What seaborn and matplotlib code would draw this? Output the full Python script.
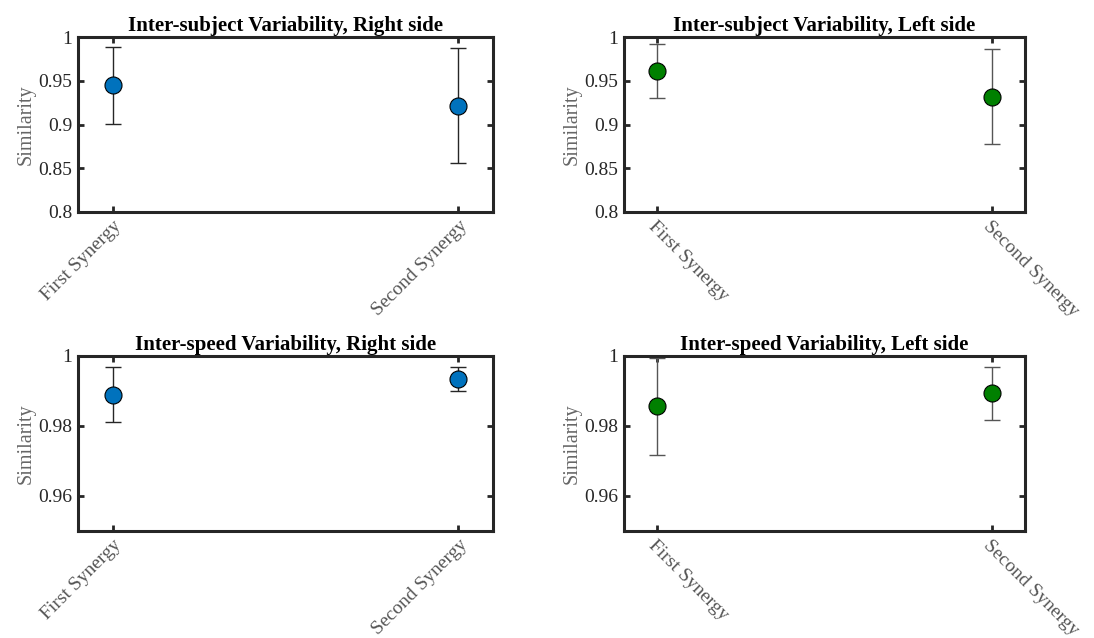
import numpy as np
import pandas as pd
import matplotlib
matplotlib.use("Agg")
import matplotlib.pyplot as plt
import seaborn as sns
from matplotlib.ticker import FuncFormatter

# data (mean +/- spread)
synergies = ["First Synergy", "Second Synergy"]
subj_right_mean = [0.945, 0.9215]
subj_right_err = [0.044, 0.066]
subj_left_mean = [0.961, 0.932]
subj_left_err = [0.0305, 0.054]
speed_right_mean = [0.9890, 0.9934]
speed_right_err = [0.0078, 0.0034]
speed_left_mean = [0.9856, 0.9893]
speed_left_err = [0.0138, 0.0077]

titles = ["Inter-subject Variability, Right side", "Inter-subject Variability, Left side",
          "Inter-speed Variability, Right side", "Inter-speed Variability, Left side"]

sns.set_theme(style="ticks")
plt.rcParams["font.family"] = ["Liberation Serif", "DejaVu Serif"]

BLUE = "#0072BD"
GREEN = "#008000"
DARK = "#262626"

fig = plt.figure(figsize=(10.94, 6.38), dpi=100)
W, H = 1094, 638


def make_ax(l, r, t, b):
    return fig.add_axes([l / W, 1 - b / H, (r - l) / W, (b - t) / H])


axes = [make_ax(78, 493, 37, 212), make_ax(624, 1025, 37, 212),
        make_ax(78, 493, 356, 531), make_ax(624, 1025, 356, 531)]

panels = [
    (subj_right_mean, subj_right_err, BLUE, DARK, (0.8, 1.0), [0.8, 0.85, 0.9, 0.95, 1.0], 45),
    (subj_left_mean, subj_left_err, GREEN, "#555555", (0.8, 1.0), [0.8, 0.85, 0.9, 0.95, 1.0], -45),
    (speed_right_mean, speed_right_err, BLUE, DARK, (0.95, 1.0), [0.96, 0.98, 1.0], 45),
    (speed_left_mean, speed_left_err, GREEN, "#555555", (0.95, 1.0), [0.96, 0.98, 1.0], -45),
]

fmt = FuncFormatter(lambda v, p: "%g" % round(v, 4))

for ax, title, (mean, err, col, ecol, ylim, yt, rot) in zip(axes, titles, panels):
    df = pd.DataFrame({"pos": [1, 2], "Similarity": mean, "err": err})
    ax.errorbar(df["pos"], df["Similarity"], yerr=df["err"], fmt="none",
                ecolor=ecol, elinewidth=1.0, capsize=5.5, capthick=1.0, zorder=2)
    sns.scatterplot(data=df, x="pos", y="Similarity", ax=ax, color=col, s=150,
                    edgecolor="black", linewidth=0.8, zorder=3, legend=False)

    ax.set_xlim(0.9, 2.1)
    ax.set_ylim(*ylim)
    ax.set_yticks(yt)
    ax.yaxis.set_major_formatter(fmt)
    ax.set_xticks([1, 2])
    if rot > 0:
        ax.set_xticklabels(synergies, rotation=45, ha="right", va="top",
                           rotation_mode="anchor")
    else:
        ax.set_xticklabels(synergies, rotation=-45, ha="left", va="top",
                           rotation_mode="anchor")
    ax.set_xlabel("")
    ax.set_ylabel("Similarity", fontsize=14.5, color="#666666", labelpad=2)
    ax.set_title(title, fontsize=15, fontweight="bold", color="black", pad=4)

    ax.tick_params(direction="in", length=4, width=2, colors=DARK, labelsize=14,
                   top=True, right=True, pad=4)
    for lab in ax.get_xticklabels():
        lab.set_color("#555555")
    for sp in ax.spines.values():
        sp.set_visible(True)
        sp.set_linewidth(2.2)
        sp.set_color(DARK)

fig.savefig("out.png", dpi=100)
